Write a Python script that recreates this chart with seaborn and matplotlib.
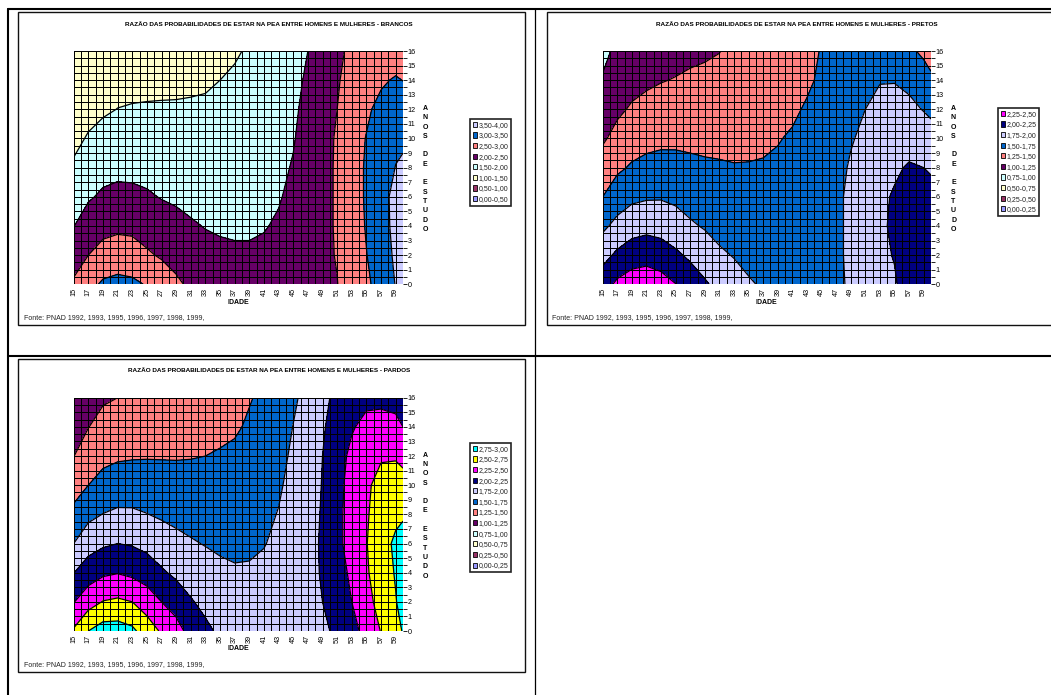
import matplotlib
matplotlib.use("Agg")
import matplotlib.pyplot as plt
import numpy as np
import pandas as pd
import seaborn as sns
from matplotlib.colors import ListedColormap
from matplotlib.lines import Line2D
from matplotlib.patches import Patch, Rectangle

W, H = 1051, 695

# ── Data ──────────────────────────────────────────────────────────────────────

ages = [15, 17, 19, 21, 23, 25, 27, 29, 31, 33, 35, 37, 39, 41, 43, 45, 47, 49, 51, 53, 55, 57, 59, 60]
years = [0, 2, 4, 6, 8, 10, 12, 14, 16]

# one row per age, one value per entry of years
brancos = [
    [2.57, 2.28, 1.99, 1.775, 1.555, 1.40, 1.30, 1.20, 1.10],
    [2.85, 2.50, 2.22, 1.95, 1.745, 1.535, 1.38, 1.28, 1.18],
    [3.07, 2.68, 2.35, 2.07, 1.85, 1.65, 1.44, 1.32, 1.20],
    [3.13, 2.75, 2.40, 2.12, 1.89, 1.70, 1.507, 1.35, 1.22],
    [3.09, 2.72, 2.38, 2.10, 1.89, 1.71, 1.53, 1.38, 1.25],
    [2.97, 2.56, 2.31, 2.05, 1.87, 1.71, 1.54, 1.39, 1.27],
    [2.78, 2.45, 2.20, 1.98, 1.84, 1.70, 1.54, 1.41, 1.29],
    [2.58, 2.35, 2.12, 1.94, 1.81, 1.67, 1.54, 1.42, 1.31],
    [2.42, 2.23, 2.04, 1.90, 1.785, 1.67, 1.55, 1.43, 1.33],
    [2.30, 2.12, 1.985, 1.88, 1.77, 1.665, 1.56, 1.45, 1.36],
    [2.22, 2.07, 1.96, 1.87, 1.78, 1.69, 1.60, 1.50, 1.42],
    [2.20, 2.05, 1.95, 1.87, 1.79, 1.71, 1.63, 1.55, 1.46],
    [2.20, 2.05, 1.95, 1.88, 1.82, 1.76, 1.70, 1.62, 1.54],
    [2.30, 2.10, 1.97, 1.90, 1.85, 1.80, 1.75, 1.70, 1.65],
    [2.35, 2.22, 2.06, 1.96, 1.91, 1.87, 1.83, 1.79, 1.75],
    [2.40, 2.34, 2.24, 2.12, 2.03, 1.97, 1.93, 1.89, 1.86],
    [2.45, 2.40, 2.35, 2.30, 2.25, 2.18, 2.12, 2.06, 2.00],
    [2.42, 2.42, 2.42, 2.42, 2.42, 2.40, 2.37, 2.32, 2.26],
    [2.49, 2.52, 2.53, 2.53, 2.53, 2.53, 2.50, 2.46, 2.40],
    [2.71, 2.76, 2.78, 2.80, 2.80, 2.78, 2.72, 2.66, 2.60],
    [2.93, 2.99, 3.03, 3.05, 3.05, 3.02, 2.92, 2.80, 2.72],
    [3.15, 3.20, 3.25, 3.28, 3.28, 3.25, 3.14, 2.93, 2.72],
    [3.52, 3.60, 3.67, 3.68, 3.51, 3.42, 3.28, 3.05, 2.72],
    [3.62, 3.70, 3.78, 3.75, 3.56, 3.44, 3.26, 2.99, 2.70],
]

pretos = [
    [2.14, 1.92, 1.70, 1.50, 1.355, 1.22, 1.123, 1.02, 0.94],
    [2.30, 2.045, 1.82, 1.625, 1.46, 1.32, 1.21, 1.13, 1.05],
    [2.38, 2.13, 1.90, 1.70, 1.525, 1.40, 1.275, 1.18, 1.10],
    [2.40, 2.16, 1.93, 1.725, 1.565, 1.43, 1.32, 1.21, 1.13],
    [2.35, 2.12, 1.91, 1.73, 1.58, 1.45, 1.345, 1.24, 1.16],
    [2.255, 2.04, 1.86, 1.70, 1.57, 1.455, 1.36, 1.26, 1.18],
    [2.13, 1.96, 1.78, 1.66, 1.55, 1.45, 1.37, 1.285, 1.20],
    [2.03, 1.875, 1.73, 1.63, 1.53, 1.449, 1.373, 1.298, 1.22],
    [1.93, 1.78, 1.69, 1.605, 1.52, 1.45, 1.38, 1.31, 1.245],
    [1.83, 1.74, 1.66, 1.59, 1.51, 1.45, 1.40, 1.35, 1.30],
    [1.77, 1.70, 1.64, 1.575, 1.51, 1.46, 1.42, 1.38, 1.34],
    [1.73, 1.68, 1.63, 1.57, 1.515, 1.47, 1.44, 1.41, 1.38],
    [1.72, 1.68, 1.63, 1.58, 1.53, 1.49, 1.46, 1.43, 1.41],
    [1.72, 1.68, 1.64, 1.60, 1.56, 1.52, 1.47, 1.45, 1.43],
    [1.72, 1.69, 1.66, 1.63, 1.60, 1.56, 1.52, 1.47, 1.45],
    [1.73, 1.71, 1.69, 1.67, 1.64, 1.61, 1.57, 1.53, 1.51],
    [1.72, 1.72, 1.71, 1.70, 1.69, 1.66, 1.62, 1.58, 1.54],
    [1.77, 1.78, 1.79, 1.80, 1.77, 1.735, 1.69, 1.64, 1.60],
    [1.85, 1.87, 1.88, 1.88, 1.84, 1.79, 1.75, 1.69, 1.62],
    [1.94, 1.96, 1.97, 1.96, 1.91, 1.86, 1.81, 1.74, 1.62],
    [1.98, 2.01, 2.03, 2.02, 1.97, 1.90, 1.83, 1.74, 1.60],
    [2.09, 2.10, 2.11, 2.09, 2.02, 1.92, 1.80, 1.70, 1.53],
    [2.14, 2.14, 2.14, 2.10, 2.00, 1.87, 1.74, 1.57, 1.47],
    [2.16, 2.15, 2.15, 2.09, 1.97, 1.83, 1.71, 1.53, 1.43],
]

pardos = [
    [2.53, 2.24, 1.995, 1.75, 1.56, 1.40, 1.246, 1.14, 1.05],
    [2.75, 2.40, 2.13, 1.90, 1.69, 1.50, 1.37, 1.245, 1.15],
    [2.86, 2.51, 2.21, 1.965, 1.755, 1.58, 1.44, 1.33, 1.22],
    [2.86, 2.54, 2.24, 2.00, 1.79, 1.62, 1.47, 1.36, 1.25],
    [2.80, 2.50, 2.20, 1.98, 1.785, 1.63, 1.48, 1.38, 1.29],
    [2.63, 2.38, 2.14, 1.93, 1.755, 1.62, 1.485, 1.39, 1.31],
    [2.47, 2.25, 2.03, 1.87, 1.72, 1.60, 1.485, 1.41, 1.33],
    [2.35, 2.14, 1.955, 1.815, 1.69, 1.58, 1.486, 1.42, 1.36],
    [2.16, 2.02, 1.89, 1.77, 1.675, 1.58, 1.49, 1.44, 1.39],
    [2.05, 1.94, 1.84, 1.74, 1.65, 1.58, 1.50, 1.45, 1.41],
    [1.96, 1.88, 1.79, 1.72, 1.65, 1.58, 1.515, 1.46, 1.42],
    [1.90, 1.85, 1.77, 1.71, 1.65, 1.59, 1.53, 1.48, 1.45],
    [1.89, 1.84, 1.77, 1.72, 1.67, 1.62, 1.57, 1.52, 1.49],
    [1.90, 1.86, 1.80, 1.74, 1.70, 1.65, 1.61, 1.57, 1.53],
    [1.92, 1.88, 1.84, 1.80, 1.76, 1.72, 1.68, 1.64, 1.60],
    [1.93, 1.91, 1.88, 1.86, 1.84, 1.82, 1.79, 1.755, 1.71],
    [1.94, 1.94, 1.93, 1.92, 1.91, 1.89, 1.87, 1.85, 1.83],
    [1.97, 2.00, 2.02, 2.03, 2.02, 2.01, 2.00, 1.975, 1.95],
    [2.03, 2.09, 2.14, 2.20, 2.20, 2.19, 2.16, 2.10, 2.05],
    [2.17, 2.25, 2.30, 2.33, 2.33, 2.32, 2.30, 2.23, 2.15],
    [2.33, 2.42, 2.47, 2.49, 2.47, 2.45, 2.36, 2.31, 2.20],
    [2.51, 2.59, 2.64, 2.66, 2.64, 2.60, 2.47, 2.36, 2.18],
    [2.70, 2.74, 2.766, 2.79, 2.70, 2.60, 2.48, 2.33, 2.15],
    [2.76, 2.82, 2.83, 2.85, 2.72, 2.57, 2.45, 2.25, 2.13],
]

colors_brancos = ["#9999FF", "#993366", "#FFFFCC", "#CCFFFF", "#660066", "#FF8080", "#0066CC", "#CCCCFF"]
labels_brancos = ["0,00-0,50", "0,50-1,00", "1,00-1,50", "1,50-2,00", "2,00-2,50", "2,50-3,00", "3,00-3,50", "3,50-4,00"]
levels_brancos = [0, 0.5, 1, 1.5, 2, 2.5, 3, 3.5, 4]

colors_quarter = ["#9999FF", "#993366", "#FFFFCC", "#CCFFFF", "#660066", "#FF8080", "#0066CC", "#CCCCFF",
                  "#000080", "#FF00FF", "#FFFF00", "#00FFFF"]
labels_quarter = ["0,00-0,25", "0,25-0,50", "0,50-0,75", "0,75-1,00", "1,00-1,25", "1,25-1,50", "1,50-1,75",
                  "1,75-2,00", "2,00-2,25", "2,25-2,50", "2,50-2,75", "2,75-3,00"]
levels_quarter = [0, 0.25, 0.5, 0.75, 1, 1.25, 1.5, 1.75, 2, 2.25, 2.5, 2.75, 3]

title_base = "RAZÃO DAS PROBABILIDADES DE ESTAR NA PEA ENTRE HOMENS E MULHERES - "
source = "Fonte: PNAD 1992, 1993, 1995, 1996, 1997, 1998, 1999,"
side_label = "A\nN\nO\nS\n\nD\nE\n\nE\nS\nT\nU\nD\nO"

sns.set_theme(style="white")
plt.rcParams["font.family"] = ["Liberation Sans", "DejaVu Sans"]

fig = plt.figure(figsize=(W / 100, H / 100), dpi=100, facecolor="white")


def fig_x(px):
    return px / W


def fig_y(py):
    return 1 - py / H


def put_text(px, py, txt, **kw):
    fig.text(fig_x(px), fig_y(py), txt, ha=kw.pop("ha", "center"), va=kw.pop("va", "center"),
             color=kw.pop("color", "black"), **kw)


# ── One chart of the table ────────────────────────────────────────────────────

def draw_panel(table, levels, colors, labels, title, box, plot, legend_xy, side_x, idade_x, title_x):
    bx0, by0, bx1, by1 = box
    fig.add_artist(Rectangle((fig_x(bx0), fig_y(by1)), (bx1 - bx0) / W, (by1 - by0) / H, zorder=-1,
                             transform=fig.transFigure, facecolor="white", edgecolor="#111111", lw=1.0))

    px0, py0, px1, py1 = plot
    ax = fig.add_axes([fig_x(px0), fig_y(py1), (px1 - px0) / W, (py1 - py0) / H])

    df = pd.DataFrame(table, index=ages, columns=years).T
    x = df.columns.to_numpy() - ages[0]
    y = (years[-1] - df.index.to_numpy()) * 2      # half year rows, top row first
    ax.contourf(x, y, df.to_numpy(), levels=levels, colors=colors)
    ax.contour(x, y, df.to_numpy(), levels=levels[1:-1], colors="black", linewidths=0.9)

    # the cell grid of the surface chart
    n_cols, n_rows = ages[-1] - ages[0], years[-1] * 2
    clear = ListedColormap([(0, 0, 0, 0)])
    sns.heatmap(np.zeros((n_rows, n_cols)), cmap=clear, cbar=False, linewidths=0.7, linecolor="black",
                xticklabels=False, yticklabels=False, ax=ax)

    ax.set_xticks(range(n_cols + 1))
    ax.set_xticklabels([str(a) if (a - ages[0]) % 2 == 0 and a < 60 else "" for a in range(ages[0], ages[-1] + 1)],
                       rotation=90, fontsize=5.2)
    ax.yaxis.tick_right()
    ax.set_yticks(range(n_rows + 1))
    ax.set_yticklabels([str(years[-1] - i // 2) if i % 2 == 0 else "" for i in range(n_rows + 1)], fontsize=5.2)
    ax.tick_params(axis="x", length=2.6, width=0.6, color="black", pad=0.2, labelcolor="black")
    ax.tick_params(axis="y", length=3, width=0.6, color="black", pad=0.2, labelcolor="black")
    ax.set_xlim(0, n_cols)
    ax.set_ylim(n_rows, 0)
    for s in ax.spines.values():
        s.set_visible(False)

    handles = [Patch(facecolor=c, edgecolor="black", linewidth=0.6) for c in colors[::-1]]
    leg = ax.legend(handles, labels[::-1], loc="upper left", bbox_to_anchor=(fig_x(legend_xy[0]), fig_y(legend_xy[1])),
                    bbox_transform=fig.transFigure, fontsize=5, frameon=True, fancybox=False, framealpha=1,
                    edgecolor="#222222", borderpad=0.4, labelspacing=0.52, handlelength=0.62, handleheight=0.75,
                    handletextpad=0.22, borderaxespad=0, labelcolor="#222222")
    leg.get_frame().set_linewidth(1.2)

    put_text(title_x, by0 + 12.5, title, fontsize=4.63, fontweight="bold")
    put_text(idade_x, py1 + 18, "IDADE", fontsize=5, fontweight="bold")
    put_text(side_x, py0 + 54, side_label, fontsize=5, fontweight="bold", va="top", linespacing=1.46,
             multialignment="center")
    put_text(bx0 + 5.3, by0 + 306, source, fontsize=5, ha="left", color="#222222")


draw_panel(brancos, levels_brancos, colors_brancos, labels_brancos, title_base + "BRANCOS",
           (18.3, 12, 524.5, 325), (73.7, 51, 403, 284.3), (470, 119), 425, 238, 268.8)
draw_panel(pretos, levels_quarter[:11], colors_quarter[:10], labels_quarter[:10], title_base + "PRETOS",
           (547, 12, 1065, 325), (602.7, 51, 931, 284.3), (998, 108), 953.5, 766, 797.3)
draw_panel(pardos, levels_quarter, colors_quarter, labels_quarter, title_base + "PARDOS",
           (18.3, 358.5, 524.5, 672), (73.7, 397.7, 403, 631), (470, 443), 425, 238, 269)

# ── Table rules around the charts ─────────────────────────────────────────────

rules = [((8, 8), (9, 695), 1.5), ((8, 1051), (9, 9), 1.5), ((8, 1051), (356, 356), 1.5), ((535.3, 535.3), (9, 695), 0.9)]
for (x0, x1), (y0, y1), lw in rules:
    fig.add_artist(Line2D([fig_x(x0), fig_x(x1)], [fig_y(y0), fig_y(y1)], transform=fig.transFigure,
                          color="black", lw=lw))

fig.savefig("out.png", dpi=100)
